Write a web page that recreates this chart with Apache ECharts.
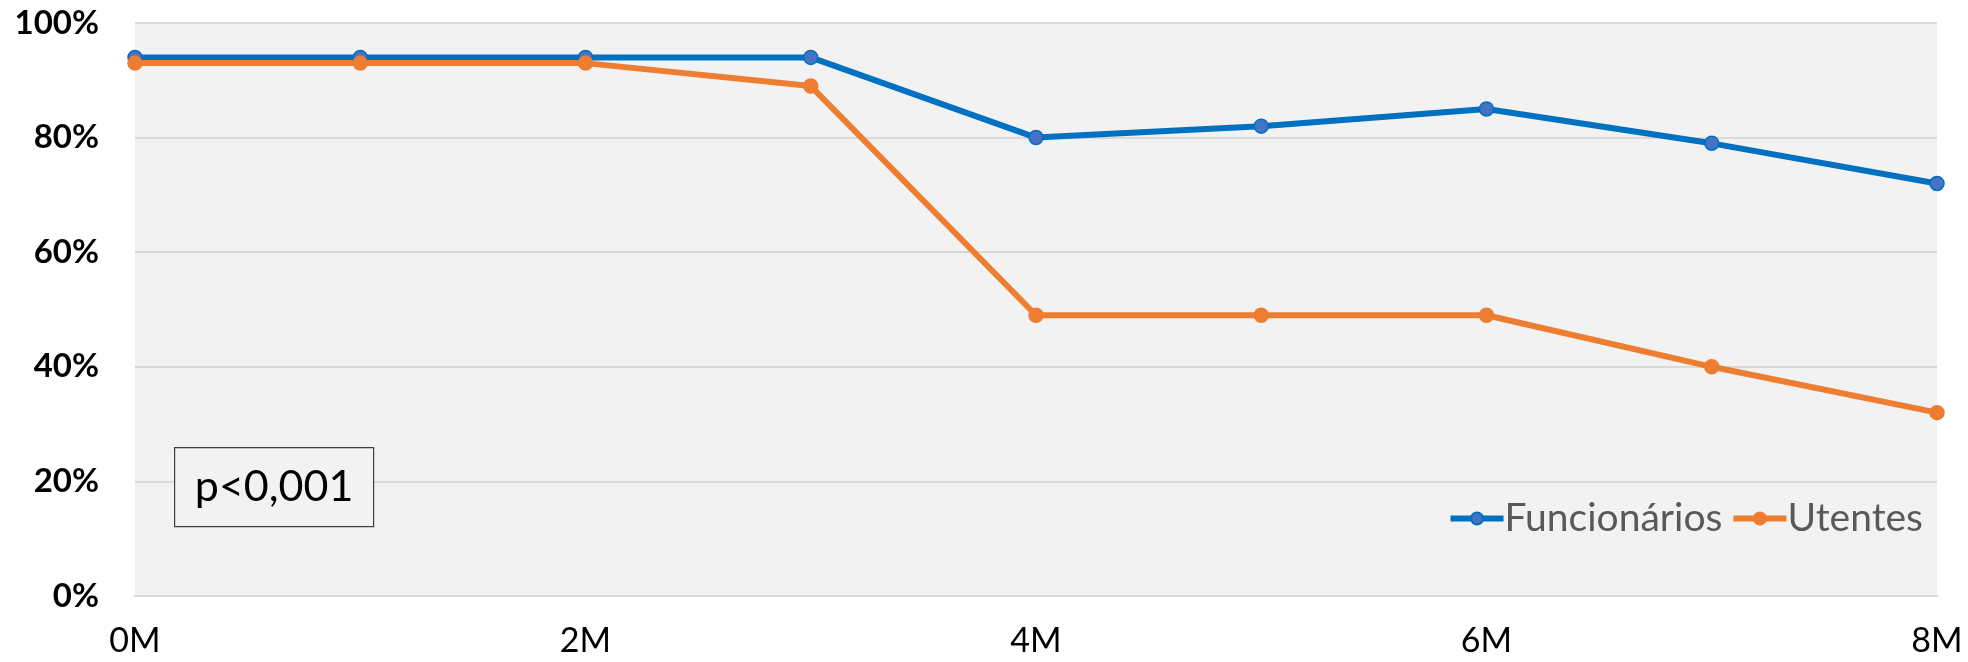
<!DOCTYPE html>
<html>
<head>
<meta charset="utf-8">
<script src="https://cdn.jsdelivr.net/npm/echarts@6/dist/echarts.min.js"></script>
<style>
html,body{margin:0;padding:0;background:#fff;}
#chart{width:1968px;height:662px;}
</style>
</head>
<body>
<div id="chart"></div>
<script>
const categories = ['0M','1M','2M','3M','4M','5M','6M','7M','8M'];
const funcionarios = [94, 94, 94, 94, 80, 82, 85, 79, 72];
const utentes = [93, 93, 93, 89, 49, 49, 49, 40, 32];
const yTicks = [0, 20, 40, 60, 80, 100];
const annotation = 'p<0,001';

const chart = echarts.init(document.getElementById('chart'), null, {renderer:'canvas'});
const FONT = 'Lato, "Open Sans", sans-serif';
chart.setOption({
  animation: false,
  backgroundColor: '#ffffff',
  grid: {left: 135, right: 31, top: 23, bottom: 66, show: true, backgroundColor: '#f2f2f2', borderWidth: 0},
  legend: {
    right: 40, top: 494,
    itemWidth: 53, itemHeight: 15, itemGap: 8,
    lineStyle: {width: 6},
    textStyle: {fontFamily: FONT, fontSize: 39, color: '#595959', padding: [0,0,0,-4]},
    data: ['Funcionários', 'Utentes']
  },
  xAxis: {
    type: 'category', data: categories, boundaryGap: false,
    axisLine: {show: true, lineStyle: {color: '#d9d9d9', width: 2}},
    axisTick: {show: false},
    axisLabel: {interval: 1, fontFamily: FONT, fontSize: 34, color: '#000', margin: 28},
    splitLine: {show: false}
  },
  yAxis: {
    type: 'value', min: yTicks[0], max: yTicks[yTicks.length-1], interval: 20,
    axisLine: {show: false}, axisTick: {show: false},
    axisLabel: {formatter: '{value}%', fontFamily: FONT, fontWeight: 'bold', fontSize: 33, color: '#000', margin: 36},
    splitLine: {show: true, lineStyle: {color: '#d9d9d9', width: 2}}
  },
  series: [
    {
      name: 'Funcionários', type: 'line', data: funcionarios,
      symbol: 'circle', symbolSize: 14,
      lineStyle: {color: '#0070C0', width: 6},
      itemStyle: {color: '#4472C4', borderColor: '#0070C0', borderWidth: 1.5}
    },
    {
      name: 'Utentes', type: 'line', data: utentes,
      symbol: 'circle', symbolSize: 14,
      lineStyle: {color: '#ED7D31', width: 6},
      itemStyle: {color: '#ED7D31', borderColor: '#ED7D31', borderWidth: 1.5}
    }
  ],
  graphic: [
    {
      type: 'group', left: 174, top: 447, z: 100,
      children: [
        {type: 'rect', z: 100, shape: {x: 0, y: 0, width: 199, height: 79}, style: {fill: '#f2f2f2', stroke: '#404040', lineWidth: 1.2}},
        {type: 'text', z: 101, x: 99.5, y: 40, style: {text: annotation, fontFamily: FONT, fontSize: 43, fill: '#000', align: 'center', verticalAlign: 'middle'}}
      ]
    }
  ]
});
</script>
</body>
</html>
